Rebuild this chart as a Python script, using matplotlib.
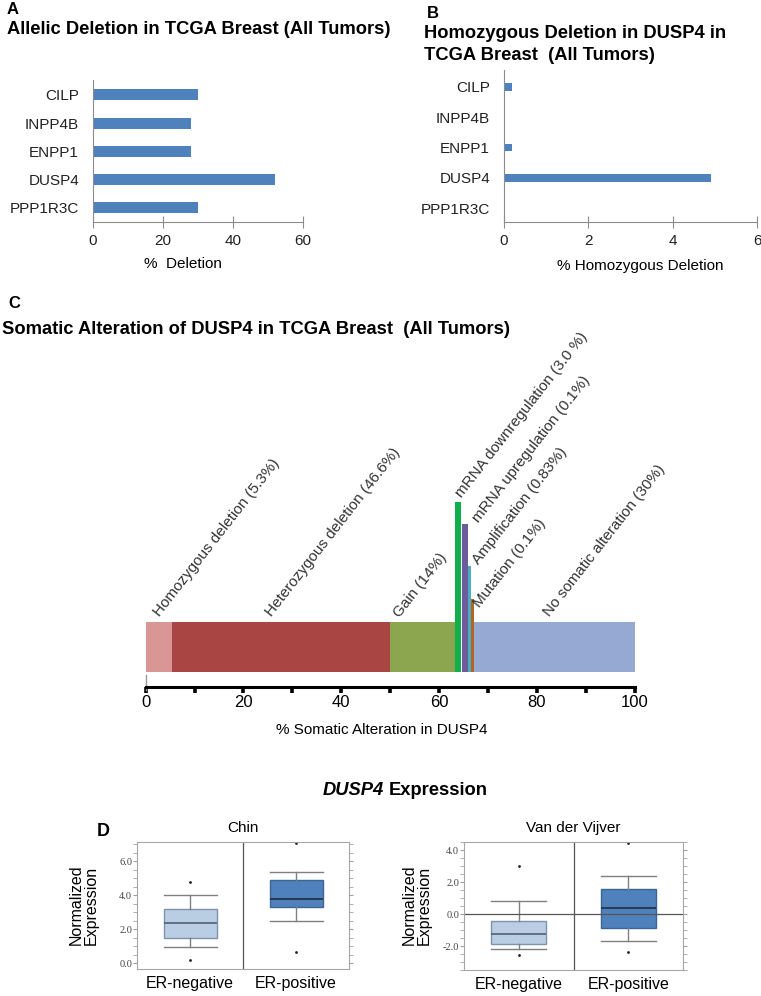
import numpy as np
import matplotlib
matplotlib.use('Agg')
import matplotlib.pyplot as plt
from matplotlib.ticker import MultipleLocator, FormatStrFormatter

plt.rcParams['font.family'] = ['Liberation Sans', 'DejaVu Sans']

# panel A / B data
genes = ['CILP', 'INPP4B', 'ENPP1', 'DUSP4', 'PPP1R3C']
allelic_del = [30, 28, 28, 52, 30]
homo_del = [0.2, 0, 0.2, 4.9, 0]

# panel C data (drawn extents)
seg_names = ['Homozygous deletion', 'Heterozygous deletion', 'Gain', 'mRNA downregulation',
             'mRNA upregulation', 'Amplification', 'Mutation', 'No somatic alteration']
seg_pct = ['5.3%', '46.6%', '14%', '3.0 %', '0.1%', '0.83%', '0.1%', '30%']
seg_left = [0, 5.3, 50, 63.3, 64.6, 65.9, 66.5, 67.1]
seg_width = [5.3, 44.7, 14, 1.1, 1.4, 0.6, 0.6, 32.9]
seg_height = [50, 50, 50, 170, 148, 106, 73, 50]
seg_colors = ['#D99694', '#A94643', '#8BA64F', '#0FB04C', '#6E5C9A', '#4BACC6', '#B8641E', '#95A9D2']
label_x = [2.8, 25.7, 51.9, 64.6, 68.0, 68.0, 68.4, 82.6]
label_y = [55, 55, 54, 174, 149, 107, 64, 55]

# panel D data (box plot summaries)
groups = ['ER-negative', 'ER-positive']
chin_med = [2.35, 3.76]
chin_q1 = [1.47, 3.3]
chin_q3 = [3.18, 4.88]
chin_lo = [0.94, 2.47]
chin_hi = [4.0, 5.35]
chin_fliers = [[4.76, 0.18], [0.65, 7.05]]
vdv_med = [-1.25, 0.375]
vdv_q1 = [-1.875, -0.875]
vdv_q3 = [-0.44, 1.56]
vdv_lo = [-2.19, -1.69]
vdv_hi = [0.81, 2.375]
vdv_fliers = [[3.0, -2.56], [4.44, -2.375]]

W, H = 761, 996
fig = plt.figure(figsize=(W / 100, H / 100), dpi=100)


def px_axes(l, t, r, b):
    return fig.add_axes([l / W, 1 - b / H, (r - l) / W, (b - t) / H])


def ftext(x, y, s, **kw):
    return fig.text(x / W, 1 - y / H, s, **kw)


grey = '#8C8C8C'
tsize = 13.25

# ---- A ----
axA = px_axes(93, 80, 302.7, 222)
axA.barh(range(len(genes)), allelic_del, height=0.39, color='#4F81BD')
axA.set_yticks(range(len(genes)), genes)
axA.set_ylim(4.5, -0.53)
axA.set_xlim(0, 60)
axA.set_xticks([0, 20, 40, 60])
axA.set_xlabel('%  Deletion', fontsize=11)
axA.xaxis.set_label_coords(0.43, -0.245)
ftext(7, 10, 'A', fontsize=12, weight='bold', va='center')
ftext(7, 30, 'Allelic Deletion in TCGA Breast (All Tumors)', fontsize=tsize, weight='bold', va='center')

# ---- B ----
axB = px_axes(504, 70, 757, 222)
axB.barh(range(len(genes)), homo_del, height=0.25, color='#4F81BD')
axB.set_yticks(range(len(genes)), genes)
axB.set_ylim(4.46, -0.56)
axB.set_xlim(0, 6)
axB.set_xticks([0, 2, 4, 6])
axB.set_xlabel('% Homozygous Deletion', fontsize=11)
axB.xaxis.set_label_coords((640 - 504) / 253, -0.245)
ftext(427, 13, 'B', fontsize=12, weight='bold', va='center')
ftext(424, 33, 'Homozygous Deletion in DUSP4 in', fontsize=tsize, weight='bold', va='center')
ftext(424, 55, 'TCGA Breast  (All Tumors)', fontsize=tsize, weight='bold', va='center')

for ax in (axA, axB):
    for s in ('top', 'right'):
        ax.spines[s].set_visible(False)
    for s in ('left', 'bottom'):
        ax.spines[s].set_color(grey)
    ax.tick_params(axis='y', length=0, pad=10, labelsize=11, colors='#222222')
    ax.tick_params(axis='x', direction='inout', length=8, color=grey, pad=4.5, labelsize=11,
                   labelcolor='#222222')

# ---- C ----
axC = px_axes(145.7, 480, 634.6, 687)
for i in range(len(seg_names)):
    axC.bar(seg_left[i], seg_height[i], width=seg_width[i], bottom=0, align='edge',
            color=seg_colors[i], linewidth=0)
    axC.text(label_x[i], label_y[i], '%s (%s)' % (seg_names[i], seg_pct[i]), rotation=52,
             rotation_mode='anchor', ha='left', va='baseline', fontsize=11, color='#333333')
axC.set_xlim(0, 100)
axC.set_ylim(-15, 192)
for s in ('top', 'right', 'left'):
    axC.spines[s].set_visible(False)
axC.spines['bottom'].set_linewidth(2.2)
axC.set_yticks([])
axC.set_xticks(np.arange(0, 101, 20))
axC.xaxis.set_minor_locator(MultipleLocator(10))
axC.tick_params(axis='x', which='both', direction='out', length=4, width=2.6, pad=1.5,
                labelsize=12)
axC.plot([0, 0], [-3, -18], color='#999999', lw=1, clip_on=False)
axC.set_xlabel('% Somatic Alteration in DUSP4', fontsize=11)
axC.xaxis.set_label_coords((382 - 145.7) / 488.9, -0.175)
ftext(8, 304, 'C', fontsize=12, weight='bold', va='center')
ftext(2, 330, 'Somatic Alteration of DUSP4 in TCGA Breast  (All Tumors)', fontsize=tsize,
      weight='bold', va='center')

# ---- D ----
ftext(384, 790, 'DUSP4', fontsize=tsize, weight='bold', style='italic', ha='right', va='center')
ftext(389, 790, 'Expression', fontsize=tsize, weight='bold', ha='left', va='center')
ftext(97, 832, 'D', fontsize=13, weight='bold', va='center')

axD1 = px_axes(137, 842, 349, 969)
axD2 = px_axes(464, 842, 683, 970)
box_faces = ['#B9CDE5', '#4F81BD']
box_edges = ['#7F93AB', '#3D6592']
med_cols = ['#50606F', '#1E2D40']

for ax, med, q1, q3, lo, hi, fl, title, ylim, ylab_x in (
        (axD1, chin_med, chin_q1, chin_q3, chin_lo, chin_hi, chin_fliers, 'Chin', (-0.35, 7.12), 84),
        (axD2, vdv_med, vdv_q1, vdv_q3, vdv_lo, vdv_hi, vdv_fliers, 'Van der Vijver', (-3.5, 4.5), 417)):
    stats = []
    for j in range(2):
        stats.append(dict(med=med[j], q1=q1[j], q3=q3[j], whislo=lo[j], whishi=hi[j],
                          fliers=fl[j], label=groups[j]))
    bp = ax.bxp(stats, positions=[0.5, 1.5], widths=0.5, capwidths=0.5, patch_artist=True,
                whiskerprops=dict(color='#808080', lw=1),
                capprops=dict(color='#808080', lw=1),
                flierprops=dict(marker='.', markersize=2, markerfacecolor='#222222',
                                markeredgecolor='#222222', linestyle='none'))
    for j in range(2):
        bp['boxes'][j].set_facecolor(box_faces[j])
        bp['boxes'][j].set_edgecolor(box_edges[j])
        bp['medians'][j].set_color(med_cols[j])
        bp['medians'][j].set_linewidth(1.2)
    ax.set_xlim(0, 2)
    ax.set_ylim(*ylim)
    ax.axvline(1, color='#555555', lw=0.9)
    ax.yaxis.set_major_locator(MultipleLocator(2))
    ax.yaxis.set_minor_locator(MultipleLocator(0.5))
    ax.yaxis.set_major_formatter(FormatStrFormatter('%.1f'))
    ax.tick_params(axis='y', which='both', left=True, right=True, direction='out', length=3,
                   color='#A0A0A0', pad=0.5, labelsize=7.5, labelcolor='#444444')
    for t in ax.get_yticklabels():
        t.set_family('Liberation Serif')
    ax.tick_params(axis='x', length=0, pad=5, labelsize=11.5)
    for s in ax.spines.values():
        s.set_color('#A6A6A6')
    ax.set_title(title, fontsize=11, pad=7)
    ftext(ylab_x, 905, 'Normalized\nExpression', fontsize=11.5, rotation=90, ha='center',
          va='center', linespacing=1.0)

axD2.axhline(0, color='#555555', lw=0.9)

fig.savefig('out.png', dpi=100)
